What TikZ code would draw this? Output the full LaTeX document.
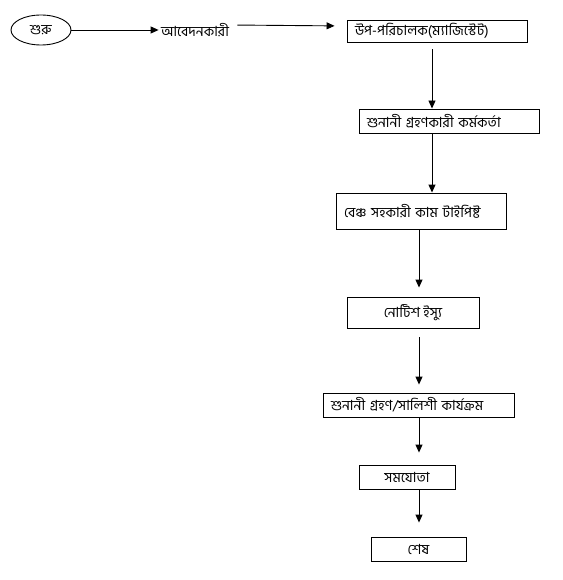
\documentclass[tikz,border=0pt]{standalone}
\usepackage{fontspec}
\newfontfamily\bn[Script=Bengali]{Hind Siliguri}
\usetikzlibrary{arrows.meta, positioning, shapes.geometric}

\begin{document}
\begin{tikzpicture}[x=1pt, y=-1pt, line width=0.9pt,
  arr/.style={-{Triangle[length=8pt, width=7pt]}},
  box/.style={draw, minimum height=24pt, inner xsep=8pt, inner ysep=0pt,
              font=\bn\fontsize{14}{16}\selectfont, align=left},
  lbl/.style={font=\bn\fontsize{14}{16}\selectfont}]
  \useasboundingbox (0,0) rectangle (562,580);

  % columns of the vertical arrows
  \coordinate (upper) at (432,0);
  \coordinate (lower) at (419,0);

  \node[draw, ellipse, minimum width=60pt, minimum height=30pt, inner sep=0pt, lbl] (start) at (41,30) {শুরু};
  \node[lbl, inner sep=2pt] (applicant) at (195,30) {আবেদনকারী};
  \node[box, minimum height=22pt, text width=164pt] (deputy) at (437,31) {উপ-পরিচালক(ম্যাজিস্টেট)};
  \node[box, text width=164pt] (hearing) at (449,121) {শুনানী গ্রহণকারী কর্মকর্তা};
  \node[box, minimum height=36pt, text width=154pt] (bench) at (421,211) {বেঞ্চ সহকারী কাম টাইপিষ্ট};
  \node[box, minimum height=31pt, minimum width=132pt, align=center] (notice) at (413,312.5) {নোটিশ ইস্যু};
  \node[box, text width=175pt] (arbitration) at (418.5,405) {শুনানী গ্রহণ/সালিশী কার্যক্রম};
  \node[box, minimum width=96pt, align=center] (settlement) at (407,477) {সমযোতা};
  \node[box, minimum width=95pt, align=center] (finish) at (418.5,549) {শেষ};

  \draw[arr] (start) -- (applicant);
  \draw[arr, shorten <=6pt, shorten >=12pt] ([yshift=5pt]applicant.east) -- ([yshift=5pt]deputy.west);
  \draw[arr, shorten <=7pt] (deputy.south -| upper) -- (hearing.north -| upper);
  \draw[arr] (hearing.south -| upper) -- (bench.north -| upper);
  \draw[arr, shorten >=9pt] (bench.south -| lower) -- (notice.north -| lower);
  \draw[arr, shorten <=9pt, shorten >=8pt] (notice.south -| lower) -- (arbitration.north -| lower);
  \draw[arr, shorten >=12pt] (arbitration.south -| lower) -- (settlement.north -| lower);
  \draw[arr, shorten >=14pt] (settlement.south -| lower) -- (finish.north -| lower);
\end{tikzpicture}
\end{document}
